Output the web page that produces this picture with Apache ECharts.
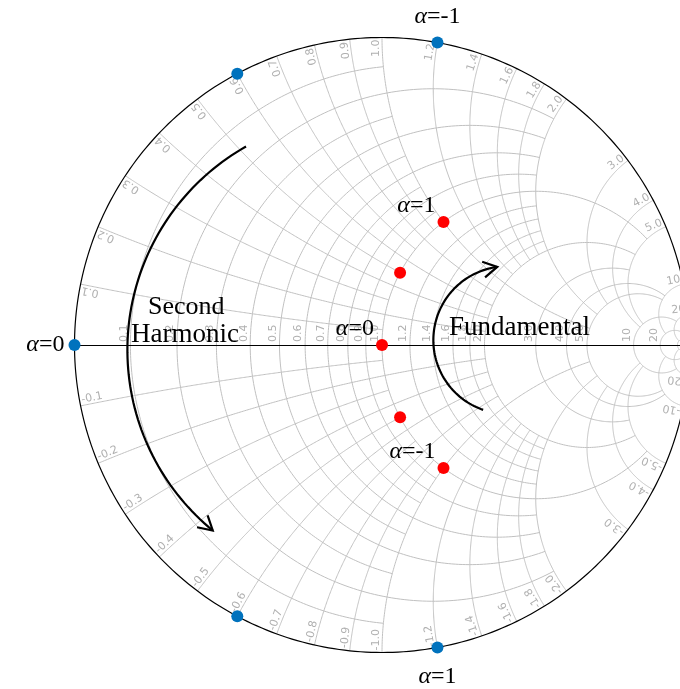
<!DOCTYPE html>
<html><head><meta charset="utf-8">
<script src="https://cdn.jsdelivr.net/npm/echarts@6/dist/echarts.min.js"></script>
<style>html,body{margin:0;padding:0;background:#fff}#c{width:680px;height:689px}</style>
</head><body><div id="c"></div>
<script>
// ---- grid definition (Smith chart) ----
const R_VALUES = [0.1,0.2,0.3,0.4,0.5,0.6,0.7,0.8,0.9,1.0,1.2,1.4,1.6,1.8,2.0,3,4,5,10,20,50];
const R_ENDS   = [1,  2,  1,  2,  1,  2,  1,  2,  1,  5,  2,  2,  2,  2,  5,  5,10,10,20,50,Infinity];
const X_VALUES = [0.1,0.2,0.3,0.4,0.5,0.6,0.7,0.8,0.9,1.0,1.2,1.4,1.6,1.8,2.0,3,4,5,10,20,50];
const X_ENDS   = [1,  2,  1,  2,  1,  2,  1,  2,  1,  5,  2,  2,  2,  2,  5,  5,10,10,20,50,Infinity];
const AXIS_LABELS = ['0.1','0.2','0.3','0.4','0.5','0.6','0.7','0.8','0.9','1.0','1.2','1.4','1.6','1.8','2.0','3.0','4.0','5.0','10','20'];
const RIM_LABELS  = ['0.1','0.2','0.3','0.4','0.5','0.6','0.7','0.8','0.9','1.0','1.2','1.4','1.6','1.8','2.0','3.0','4.0','5.0','10','20'];
// ---- data ----
const ALPHA  = [-1, -0.5, 0, 0.5, 1];
const FUND_R = [1, 1, 1, 1, 1];
const FUND_X = [-1, -0.5, 0, 0.5, 1];
const HARM2_R = [0, 0, 0, 0, 0];
const HARM2_X = [1.2, 0.6, 0, -0.6, -1.2];
// annotation arcs in reflection-coefficient units: centre u, centre v, radius, start deg, end deg
const ARROW_HARM = [-0.068, -0.016, 0.76, 119.5, 230.6];
const ARROW_FUND = [0.407, 0.016, 0.24, 251, 97.7];

function gam(r, x){ const d=(r+1)*(r+1)+x*x; return [(r*r+x*x-1)/d, 2*x/d]; }

const arcs = [];
R_VALUES.forEach((r,i)=>{
  const c=r/(1+r), rho=1/(1+r), e=R_ENDS[i];
  let a0=0, a1=2*Math.PI;
  if (isFinite(e)) { const g=gam(r,e); a0=Math.atan2(g[1], g[0]-c); a1=2*Math.PI-a0; }
  const pts=[]; const N=240;
  for(let k=0;k<=N;k++){ const a=a0+(a1-a0)*k/N; pts.push([c+rho*Math.cos(a), rho*Math.sin(a)]); }
  arcs.push(pts);
});
X_VALUES.forEach((x,i)=>{
  const e=X_ENDS[i];
  [1,-1].forEach(s=>{
    const cy=1/x, rho=1/x;
    const g0=gam(0,x); const g1=isFinite(e)?gam(e,x):[1,0];
    let a0=Math.atan2(g0[1]-cy, g0[0]-1), a1=Math.atan2(g1[1]-cy, g1[0]-1);
    while(a1<a0) a1+=2*Math.PI;
    const pts=[]; const N=240;
    for(let k=0;k<=N;k++){ const a=a0+(a1-a0)*k/N; pts.push([1+rho*Math.cos(a), s*(cy+rho*Math.sin(a))]); }
    arcs.push(pts);
  });
});
const rim=[]; for(let k=0;k<=360;k++){ const a=k*Math.PI/180; rim.push([Math.cos(a),Math.sin(a)]); }

function arrowPts(p){ const [cu,cv,rad,s,e]=p; const pts=[]; const N=80;
  for(let k=0;k<=N;k++){ const a=(s+(e-s)*k/N)*Math.PI/180; pts.push([cu+rad*Math.cos(a), cv+rad*Math.sin(a)]); } return pts; }

const W=680,H=689,CX=382,CY=345,RAD=307.5;
const chart = echarts.init(document.getElementById('c'), null, {renderer:'canvas'});
const GRAY='#c0c0c0', LBL='#b0b0b0';
const serif='"Liberation Serif", "DejaVu Serif", serif';

const labelItems=[];
R_VALUES.forEach((r,i)=>{ if(i<AXIS_LABELS.length) labelItems.push({kind:'axis', p:gam(r,0), t:AXIS_LABELS[i]}); });
X_VALUES.forEach((x,i)=>{ if(i<RIM_LABELS.length){ labelItems.push({kind:'rim', s:1, p:gam(0,x), t:RIM_LABELS[i]}); labelItems.push({kind:'rim', s:-1, p:gam(0,-x), t:'-'+RIM_LABELS[i]}); } });

const fundPts = FUND_R.map((r,i)=>gam(r,FUND_X[i]));
const harmPts = HARM2_R.map((r,i)=>gam(r,HARM2_X[i]));
const alphaTxt = a => '{i|α}=' + a;

function arrowSeries(p){
  const pts=arrowPts(p);
  return {type:'custom', coordinateSystem:'cartesian2d', silent:true, z:5, data:[[0,0]],
    renderItem(params, api){
      const px=pts.map(q=>api.coord(q));
      const n=px.length, tip=px[n-1], prev=px[n-4];
      const ang=Math.atan2(tip[1]-prev[1], tip[0]-prev[0]);
      const L=16, h=0.52;
      const w1=[tip[0]-L*Math.cos(ang-h), tip[1]-L*Math.sin(ang-h)];
      const w2=[tip[0]-L*Math.cos(ang+h), tip[1]-L*Math.sin(ang+h)];
      return {type:'group', children:[
        {type:'polyline', shape:{points:px}, style:{stroke:'#000', lineWidth:2.2, fill:null}},
        {type:'polyline', shape:{points:[w1,tip,w2]}, style:{stroke:'#000', lineWidth:2.2, fill:null}}
      ]};
    }};
}
const lblStyle = {color:'#000', fontSize:24, fontFamily:serif, rich:{i:{fontStyle:'italic', fontSize:24, fontFamily:serif, color:'#000'}}};

chart.setOption({
  animation:false,
  grid:{left:0,right:0,top:0,bottom:0},
  xAxis:{type:'value', min:-CX/RAD, max:(W-CX)/RAD, show:false},
  yAxis:{type:'value', min:-(H-CY)/RAD, max:CY/RAD, show:false},
  series:[
    {type:'custom', coordinateSystem:'cartesian2d', silent:true, z:1, data:arcs.map(()=>[0,0]),
     renderItem(params, api){ const pts=arcs[params.dataIndex].map(q=>api.coord(q));
       return {type:'polyline', shape:{points:pts}, style:{stroke:GRAY, lineWidth:1, fill:null}}; }},
    {type:'custom', coordinateSystem:'cartesian2d', silent:true, z:2, data:[[0,0]],
     renderItem(params, api){
       const a=api.coord([-1,0]), b=api.coord([1,0]);
       return {type:'group', children:[
         {type:'polyline', shape:{points:rim.map(q=>api.coord(q))}, style:{stroke:'#000', lineWidth:1.2, fill:null}},
         {type:'line', shape:{x1:a[0], y1:Math.round(a[1])+0.5, x2:b[0], y2:Math.round(b[1])+0.5}, style:{stroke:'#000', lineWidth:1}}
       ]}; }},
    {type:'custom', coordinateSystem:'cartesian2d', silent:true, z:3, data:labelItems.map(()=>[0,0]),
     renderItem(params, api){
       const it=labelItems[params.dataIndex];
       const c=api.coord([0,0]), p=api.coord(it.p);
       if(it.kind==='axis'){
         return {type:'text', x:p[0]-1, y:p[1]-3, rotation:Math.PI/2,
           style:{text:it.t, fill:LBL, fontSize:11, fontFamily:'"DejaVu Sans", sans-serif', align:'left', verticalAlign:'bottom'}};
       }
       const th=Math.atan2(-(p[1]-c[1]), p[0]-c[0]);
       const rr=Math.hypot(p[0]-c[0], p[1]-c[1])-2;
       const x=c[0]+rr*Math.cos(th), y=c[1]-rr*Math.sin(th);
       return {type:'text', x, y, rotation: it.s>0? th : th+Math.PI,
         style:{text:it.t, fill:LBL, fontSize:11, fontFamily:'"DejaVu Sans", sans-serif', align: it.s>0?'right':'left', verticalAlign:'bottom'}};
     }},
    arrowSeries(ARROW_HARM),
    arrowSeries(ARROW_FUND),
    {type:'scatter', z:6, symbolSize:12, itemStyle:{color:'#ff0000', opacity:1}, data:fundPts.map((p,i)=>({value:p,
      label:Object.assign({show: ALPHA[i]%1===0, formatter: alphaTxt(ALPHA[i]), position:'left', distance: 2, offset:[0,-16]}, lblStyle)}))},
    {type:'scatter', z:6, symbolSize:12, itemStyle:{color:'#0072bd', opacity:1}, data:harmPts.map((p,i)=>({value:p,
      label:Object.assign({show: ALPHA[i]%1===0, formatter: alphaTxt(ALPHA[i]), position: ALPHA[i]===0?'left':(ALPHA[i]<0?'top':'bottom'), distance: ALPHA[i]===0?4:(ALPHA[i]<0?8:11)}, lblStyle)}))}
  ],
  graphic:[
    {type:'text', left:148, top:294, z:10, style:{text:'Second', fill:'#000', font:'26px '+serif}},
    {type:'text', left:131, top:321, z:10, style:{text:'Harmonic', fill:'#000', font:'27px '+serif}},
    {type:'text', left:449, top:314, z:10, style:{text:'Fundamental', fill:'#000', font:'27px '+serif}}
  ]
});
</script></body></html>
